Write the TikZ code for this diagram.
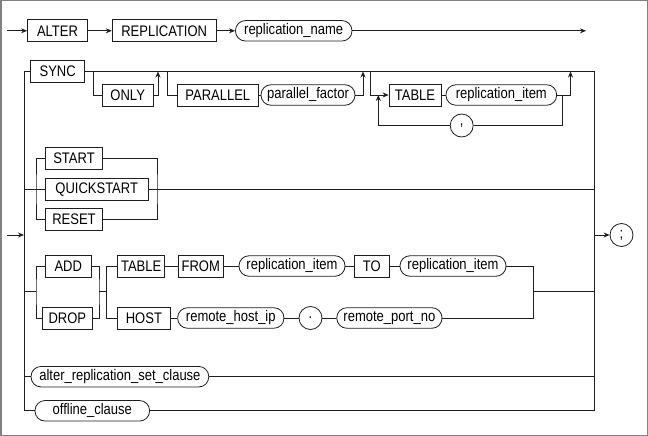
\documentclass[tikz,border=0pt]{standalone}
\usepackage{fontspec}
\setmainfont{Liberation Sans}[FakeStretch=0.85]
\usepackage{xcolor}
\usetikzlibrary{positioning, calc, arrows.meta}
\definecolor{railgray}{RGB}{30, 30, 30}
\definecolor{framegray}{RGB}{128, 128, 128}
\tikzset{
    kwbox/.style={
        draw=railgray, rectangle, minimum height=22pt, inner xsep=0pt, inner ysep=0pt,
        font=\fontsize{15.3}{15.3}\selectfont, text=black
    },
    idoval/.style={
        draw=railgray, rectangle, rounded corners=10pt, minimum height=20.5pt,
        inner xsep=0pt, inner ysep=0pt, font=\fontsize{15.3}{15.3}\selectfont, text=black
    },
    symcirc/.style={
        draw=railgray, circle, minimum size=23pt, inner sep=0pt,
        font=\fontsize{15.3}{15.3}\selectfont, text=black
    }
}

\begin{document}
\begin{tikzpicture}[
        x=1pt, y=-1pt,
        line width=0.8pt, color=railgray,
        % mui ten cua duong ray
        ptr/.style={->, >={Stealth[length=6pt, width=5pt]}}
    ]
    \useasboundingbox (0,0) rectangle (648,436);
    \draw[framegray, line width=1.5pt] (0.75,0.75) rectangle (647.25,435.25);

    % --- 1. DONG DAU ---
    \coordinate (topin) at (7,30.8);
    \node[kwbox, minimum width=60pt] (alter) at (57.5,30.8) {ALTER};
    \node[kwbox, minimum width=104pt] (repl) at (164.2,30.8) {REPLICATION};
    \node[idoval, minimum width=116.5pt] (rname) at (293.7,30.8) {replication\_name};
    \coordinate (topout) at (586,30.8);
    \draw[ptr] (topin) -- (alter);
    \draw[ptr] (alter) -- (repl);
    \draw[ptr] (repl) -- (rname);
    \draw[ptr] (rname) -- (topout);

    % --- 2. RAY TRAI / PHAI ---
    \coordinate (lx) at (24,71.5);
    \coordinate (rx) at (594,71.5);
    \node[kwbox, minimum width=54pt] (sync) at (57.7,71.5) {SYNC};
    \node[idoval, minimum width=114.6pt] (offcl) at (92.3,410.8) {offline\_clause};
    \draw (sync.west) -| (lx |- offcl) -- (offcl.west);
    \draw (sync.east) -| (rx |- offcl) -- (offcl.east);
    \coordinate (entry) at (7,235);
    \draw[ptr] (entry) -- (entry -| lx);
    \node[symcirc] (semi) at (621.5,235) {;};
    \draw[ptr] (semi -| rx) -- (semi);

    % --- 3. SYNC ---
    \coordinate (b1) at (93,71.5);
    \coordinate (j1) at (158,71.5);
    \node[kwbox, minimum width=50.5pt] (only) at (127.7,95) {ONLY};
    \draw (b1) |- (only.west);
    \draw[ptr] (only.east) -| (j1);

    \coordinate (b2) at (167,71.5);
    \coordinate (j2) at (363,71.5);
    \node[kwbox, minimum width=80.3pt] (par) at (217.8,95) {PARALLEL};
    \node[idoval, minimum width=94pt] (pfac) at (308,95) {parallel\_factor};
    \draw (b2) |- (par.west);
    \draw (par) -- (pfac);
    \draw[ptr] (pfac.east) -| (j2);

    \coordinate (b3) at (370.7,71.5);
    \coordinate (j3) at (570.5,71.5);
    \node[kwbox, minimum width=52pt] (tab) at (415,95) {TABLE};
    \node[idoval, minimum width=110.7pt] (item) at (501.3,95) {replication\_item};
    \draw[ptr] (b3) |- (tab.west);
    \draw (tab) -- (item);
    \draw[ptr] (item.east) -| (j3);

    \coordinate (lr) at (562.7,95);
    \coordinate (ll) at (378.3,95);
    \node[symcirc] (comma) at (461.7,125.5) {,};
    \draw (lr) |- (comma.east);
    \draw[ptr] (comma.west) -| (ll);

    % --- 4. START / QUICKSTART / RESET ---
    \coordinate (b4) at (36,189.7);
    \coordinate (j4) at (157,189.7);
    \node[kwbox, minimum width=57pt] (startk) at (74,158) {START};
    \node[kwbox, minimum width=102.5pt] (quick) at (96.7,189.7) {QUICKSTART};
    \node[kwbox, minimum width=57pt] (reset) at (74,219.7) {RESET};
    \draw (lx |- quick) -- (quick.west);
    \draw (quick.east) -- (rx |- quick);
    \draw (startk.west) -| (b4) |- (reset.west);
    \draw (startk.east) -| (j4) |- (reset.east);

    % --- 5. ADD / DROP ---
    \coordinate (b5) at (36,291.7);
    \coordinate (j5) at (99,291.7);
    \coordinate (b6) at (106.7,291.7);
    \coordinate (j6) at (533.3,291.7);
    \node[kwbox, minimum width=45.3pt] (add) at (68.3,266) {ADD};
    \node[kwbox, minimum width=50pt] (drop) at (67.3,318) {DROP};
    \draw (lx |- b5) -- (b5);
    \draw (add.west) -| (b5) |- (drop.west);
    \draw (add.east) -| (j5) |- (drop.east);
    \draw (j5) -- (b6);
    \draw (j6) -- (rx |- j6);

    \node[kwbox, minimum width=46.7pt] (tab2) at (141.2,266) {TABLE};
    \node[kwbox, minimum width=44.5pt] (from) at (200.7,266) {FROM};
    \node[idoval, minimum width=106pt] (item2) at (292,266) {replication\_item};
    \node[kwbox, minimum width=34.5pt] (to) at (371.7,266) {TO};
    \node[idoval, minimum width=106pt] (item3) at (453,266) {replication\_item};
    \node[kwbox, minimum width=52.2pt] (host) at (143.9,318) {HOST};
    \node[idoval, minimum width=106.3pt] (hip) at (230.8,318) {remote\_host\_ip};
    \node[symcirc] (dot) at (310.5,318) {.};
    \node[idoval, minimum width=105.2pt] (port) at (389.4,318) {remote\_port\_no};
    \draw (tab2.west) -| (b6) |- (host.west);
    \draw (tab2) -- (from) -- (item2) -- (to) -- (item3);
    \draw (host) -- (hip) -- (dot) -- (port);
    \draw (item3.east) -| (j6) |- (port.east);

    % --- 6. CAC MENH DE CON ---
    \node[idoval, minimum width=177.7pt] (setcl) at (119.9,376.7) {alter\_replication\_set\_clause};
    \draw (lx |- setcl) -- (setcl.west);
    \draw (setcl.east) -- (rx |- setcl);
\end{tikzpicture}
\end{document}
